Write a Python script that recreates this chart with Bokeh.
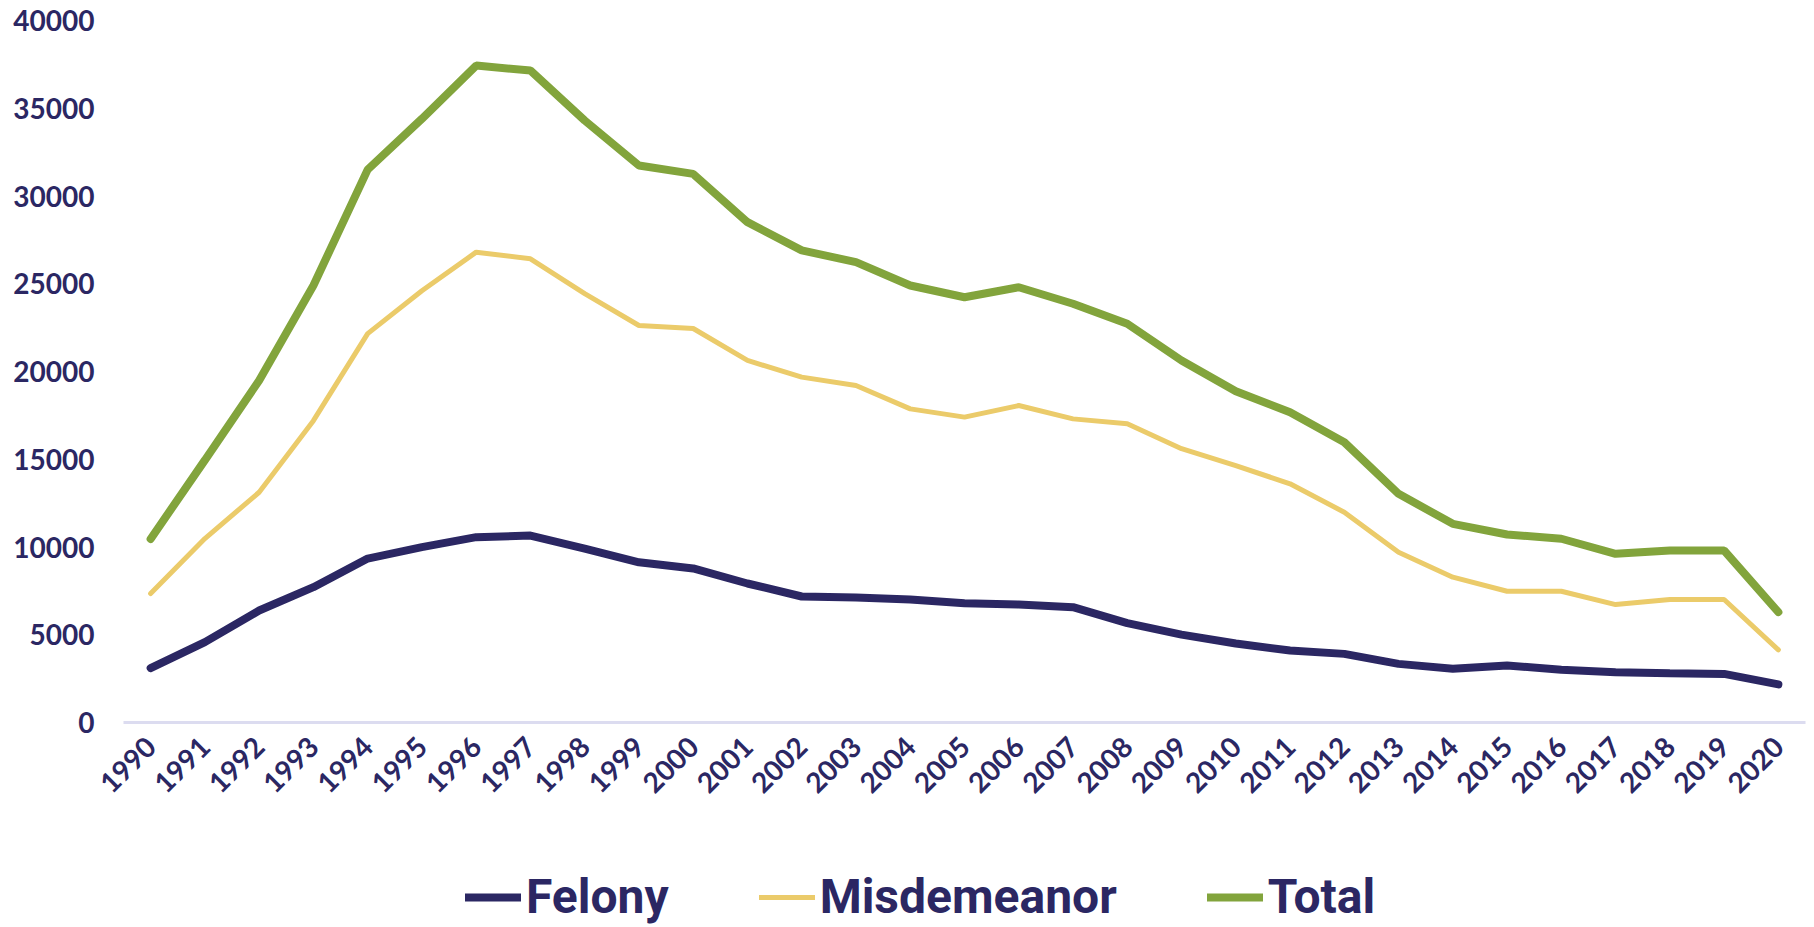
import math
from bokeh.plotting import figure
from bokeh.layouts import column
from bokeh.models import FactorRange, Range1d, FixedTicker, Legend, LegendItem
from bokeh.embed import file_html
from bokeh.resources import INLINE

years = [str(y) for y in range(1990, 2021)]
felony = [3100, 4580, 6380, 7710, 9340, 9990, 10560, 10650, 9910, 9130, 8780, 7920, 7180, 7120, 7010, 6800,
          6720, 6570, 5660, 5010, 4500, 4100, 3910, 3340, 3060, 3250, 3000, 2870, 2810, 2770, 2170]
misdemeanor = [7350, 10480, 13120, 17200, 22160, 24600, 26800, 26420, 24440, 22620, 22450, 20630, 19680, 19200,
               17870, 17400, 18060, 17300, 17020, 15600, 14640, 13600, 11980, 9700, 8280, 7480, 7480, 6720,
               7010, 7010, 4140]
total = [10460, 14950, 19490, 24900, 31500, 34400, 37430, 37150, 34300, 31740, 31260, 28510, 26900, 26230,
         24900, 24230, 24800, 23860, 22720, 20630, 18880, 17680, 15970, 13030, 11320, 10710, 10470, 9610,
         9800, 9800, 6290]
series_names = ["Felony", "Misdemeanor", "Total"]
y_ticks = list(range(0, 40001, 5000))

NAVY = "#2B2763"
YELLOW = "#EBCB6A"
GREEN = "#82A43C"
colors = [NAVY, YELLOW, GREEN]
widths = [8, 5, 8]

p = figure(frame_width=1682, frame_height=702, output_backend="svg", toolbar_location=None,
           x_range=FactorRange(factors=years, range_padding=0),
           y_range=Range1d(0, 40000),
           min_border_left=123, min_border_right=1, min_border_top=20, min_border_bottom=83)
p.outline_line_color = None
p.xgrid.grid_line_color = None
p.ygrid.grid_line_color = None

for vals, c, w in zip([felony, misdemeanor, total], colors, widths):
    p.line(years, vals, line_color=c, line_width=w, line_cap="round")

p.yaxis.ticker = FixedTicker(ticks=y_ticks)
p.yaxis.axis_line_color = None
p.yaxis.major_tick_line_color = None
p.yaxis.minor_tick_line_color = None
p.yaxis.major_label_text_font = "Lato"
p.yaxis.major_label_text_font_style = "bold"
p.yaxis.major_label_text_font_size = "28px"
p.yaxis.major_label_text_color = NAVY
p.yaxis.major_label_standoff = 23

p.xaxis.axis_line_color = "#DCDCF0"
p.xaxis.axis_line_width = 3
p.xaxis.major_tick_line_color = None
p.xaxis.minor_tick_line_color = None
p.xaxis.major_label_orientation = math.pi / 4
p.xaxis.major_label_text_font = "Lato"
p.xaxis.major_label_text_font_style = "bold"
p.xaxis.major_label_text_font_size = "28px"
p.xaxis.major_label_text_color = NAVY
p.xaxis.major_label_standoff = 13

# legend strip (its frame is aligned with the chart's frame by the column layout)
lf = figure(width=1806, height=120, output_backend="svg", toolbar_location=None,
            x_range=Range1d(0, 1), y_range=Range1d(0, 1), x_axis_type=None, y_axis_type=None,
            min_border_left=0, min_border_right=0, min_border_top=0, min_border_bottom=0)
lf.outline_line_color = None
lf.xgrid.grid_line_color = None
lf.ygrid.grid_line_color = None
items = []
for name, c, w in zip(series_names, colors, widths):
    r = lf.line([5, 6], [5, 6], line_color=c, line_width=w, line_cap="round")
    items.append(LegendItem(label=name, renderers=[r]))

legend = Legend(items=items, orientation="horizontal", location=(342, 0),
                label_text_font="Roboto", label_text_font_style="bold",
                label_text_font_size="48px", label_text_color=NAVY,
                glyph_width=56, glyph_height=30, label_height=30, label_standoff=5, spacing=90,
                padding=0, margin=0, border_line_color=None, background_fill_alpha=0)
lf.add_layout(legend, "center")

open("out.html", "w").write(file_html(column(p, lf, spacing=0), INLINE))
